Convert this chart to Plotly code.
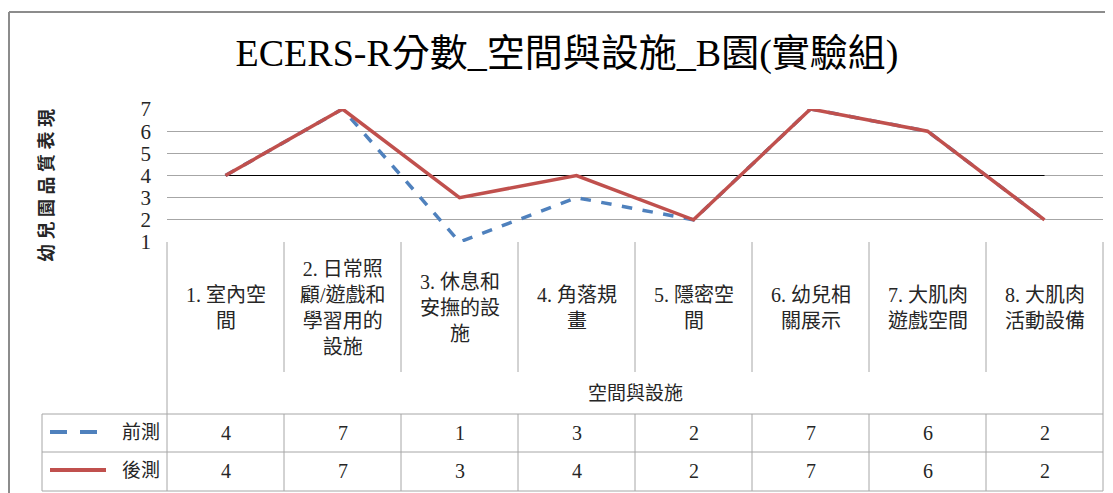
import plotly.graph_objects as go

# datos
categorias = ['1. 室內空<br>間', '2. 日常照<br>顧/遊戲和<br>學習用的<br>設施',
              '3. 休息和<br>安撫的設<br>施', '4. 角落規<br>畫', '5. 隱密空<br>間',
              '6. 幼兒相<br>關展示', '7. 大肌肉<br>遊戲空間', '8. 大肌肉<br>活動設備']
pre_test = [4, 7, 1, 3, 2, 7, 6, 2]
post_test = [4, 7, 3, 4, 2, 7, 6, 2]
ref_line = [4, 4, 4, 4, 4, 4, 4, 4]
y_ticks = [1, 2, 3, 4, 5, 6, 7]
series_names = ['前測', '後測']

# la pagina tiene 8px de margen en body
OFF = 8
W, H = 1113 - OFF, 493 - OFF
L, R, T, B = 167, 1103, 109, 242   # area del grafico en pixeles de pantalla

FONT = 'Liberation Serif, Noto Sans CJK TC, serif'
BLUE = '#4F81BD'
RED = '#C0504D'
GRID = '#A6A6A6'
TXT = '#262626'


def px(xpix):
    return (xpix - L) / (R - L)


def py(ypix):
    return (B - ypix) / (B - T)


xs = list(range(len(categorias)))

fig = go.Figure()
fig.add_trace(go.Scatter(x=xs, y=ref_line, mode='lines',
                         line=dict(color='black', width=1), showlegend=False))
fig.add_trace(go.Scatter(x=xs, y=pre_test, mode='lines', name=series_names[0],
                         line=dict(color=BLUE, width=3.5, dash='dash'), showlegend=False))
fig.add_trace(go.Scatter(x=xs, y=post_test, mode='lines', name=series_names[1],
                         line=dict(color=RED, width=3.5), showlegend=False))

shapes = []
n = len(categorias)


def linea(x0, y0, x1, y1, color=GRID, width=1, dash=None):
    shapes.append(dict(type='line', xref='paper', yref='paper',
                       x0=px(x0), y0=py(y0), x1=px(x1), y1=py(y1),
                       line=dict(color=color, width=width, dash=dash)))


# marco exterior
linea(9, 12, 1125, 12, color='#8C8C8C', width=2)
linea(9, 12, 9, 505, color='#8C8C8C', width=2)

# tabla de categorias
colw = (R - L) / n
linea(L, B, L, 491)
linea(R, B, R, 491)
for k in range(1, n):
    xk = L + k * colw
    linea(xk, B, xk, 372)
    linea(xk, 414, xk, 491)
for yy in [414, 452, 491]:
    linea(42, yy, R, yy)
linea(42, 414, 42, 491)

# muestras de leyenda
shapes.append(dict(type='line', xref='paper', yref='paper',
                   x0=px(50), y0=py(432), x1=px(102), y1=py(432),
                   line=dict(color=BLUE, width=4, dash='17px,13px')))
linea(50, 470, 106, 470, color=RED, width=4)

annotations = []
for i, cat in enumerate(categorias):
    annotations.append(dict(x=i, xref='x', y=py(308), yref='paper', text=cat,
                            showarrow=False, yanchor='middle',
                            font=dict(family=FONT, size=20, color=TXT)))
    annotations.append(dict(x=i, xref='x', y=py(433), yref='paper', text=str(pre_test[i]),
                            showarrow=False, yanchor='middle',
                            font=dict(family=FONT, size=20, color=TXT)))
    annotations.append(dict(x=i, xref='x', y=py(471), yref='paper', text=str(post_test[i]),
                            showarrow=False, yanchor='middle',
                            font=dict(family=FONT, size=20, color=TXT)))

annotations.append(dict(x=0.5, xref='paper', y=py(393), yref='paper', text='空間與設施',
                        showarrow=False, yanchor='middle',
                        font=dict(family=FONT, size=19, color=TXT)))
annotations.append(dict(x=px(162), xref='paper', y=py(432), yref='paper', text=series_names[0],
                        showarrow=False, xanchor='right', yanchor='middle',
                        font=dict(family=FONT, size=19, color=TXT)))
annotations.append(dict(x=px(162), xref='paper', y=py(470), yref='paper', text=series_names[1],
                        showarrow=False, xanchor='right', yanchor='middle',
                        font=dict(family=FONT, size=19, color=TXT)))
annotations.append(dict(x=px(47), xref='paper', y=py(186), yref='paper',
                        text='<b>幼 兒 園 品 質 表 現</b>',
                        showarrow=False, textangle=-90, xanchor='center', yanchor='middle',
                        font=dict(family=FONT, size=18, color=TXT)))

fig.update_layout(
    width=W, height=H,
    margin=dict(l=L - OFF, r=1113 - R, t=T - OFF, b=493 - B, pad=0),
    paper_bgcolor='white', plot_bgcolor='white',
    title=dict(text='ECERS-R分數_空間與設施_B園(實驗組)', x=(567 - OFF) / W, xanchor='center',
               y=1 - (53 - OFF) / H, yanchor='middle', xref='container', yref='container',
               font=dict(family=FONT, size=38, color='black')),
    xaxis=dict(range=[-0.5, n - 0.5], showticklabels=False, showgrid=False,
               zeroline=False, showline=False, fixedrange=True),
    yaxis=dict(range=[1, 7], tickvals=y_ticks, showgrid=True, gridcolor=GRID, gridwidth=1,
               zeroline=False, showline=False, ticklabelstandoff=15,
               tickfont=dict(family=FONT, size=21, color=TXT)),
    shapes=shapes,
    annotations=annotations,
    showlegend=False,
)

fig.write_html('out.html')
